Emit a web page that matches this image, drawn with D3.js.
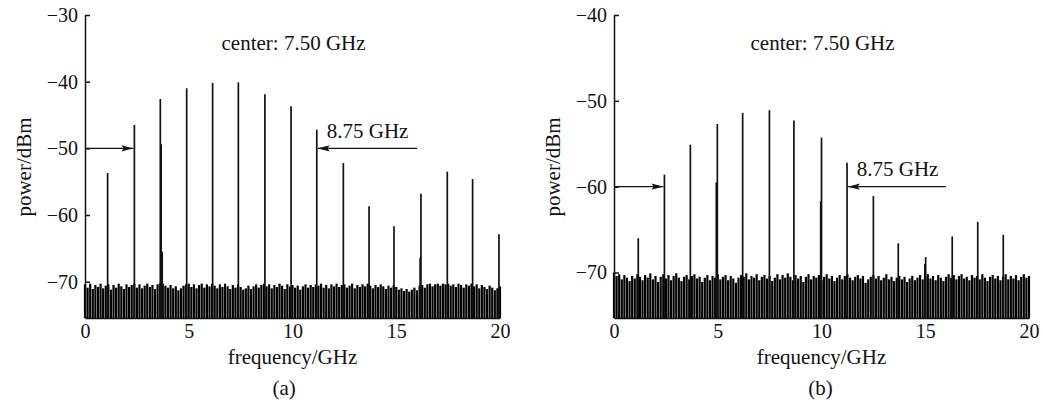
<!DOCTYPE html>
<html>
<head>
<meta charset="utf-8">
<script src="https://cdn.jsdelivr.net/npm/d3@7"></script>
<style>
  body { margin: 0; background: #fff; }
  svg text { font-family: "Liberation Serif", "DejaVu Serif", serif; fill: #111; }
</style>
</head>
<body>
<div id="chart"></div>
<script>
var svgWidth = 1043;
var svgHeight = 403;

// comb line frequencies (GHz) and peak powers (dBm)
var freqsA = [1.09, 2.38, 3.63, 4.90, 6.15, 7.39, 8.67, 9.93, 11.17, 12.45, 13.69, 14.89, 16.19, 17.46, 18.68, 19.95];
var peaksA = [-53.7, -46.5, -42.6, -41.0, -40.2, -40.1, -41.9, -43.7, -47.2, -52.2, -58.7, -61.7, -56.8, -53.5, -54.6, -62.9];
var spurFreqsA = [3.67, 3.72, 16.15];
var spurPeaksA = [-49.4, -65.5, -66.4];

var freqsB = [1.17, 2.43, 3.68, 4.98, 6.20, 7.49, 8.67, 10.00, 11.23, 12.50, 13.70, 15.02, 16.30, 17.53, 18.76];
var peaksB = [-66.0, -58.6, -55.1, -52.7, -51.4, -51.1, -52.3, -54.3, -57.2, -61.1, -66.6, -68.2, -65.8, -64.1, -65.6];
var spurFreqsB = [4.93, 9.96, 14.98];
var spurPeaksB = [-59.5, -61.7, -69.0];

// noise floor tops, one per 0.125 GHz from 0 to 20 GHz
var noiseA = [
  -70.4, -70.9, -70.3, -71.1, -70.5, -70.8, -70.3, -71.0, -70.6, -70.4,
  -71.2, -70.5, -70.9, -70.3, -70.7, -71.1, -70.4, -70.8, -70.5, -70.3,
  -70.9, -70.4, -71.0, -70.6, -70.3, -70.8, -70.5, -71.1, -70.4, -70.2,
  -70.3, -70.6, -70.9, -70.5, -71.0, -70.7, -71.3, -71.0, -70.6, -70.4,
  -70.3, -70.8, -70.4, -71.0, -70.5, -70.3, -70.9, -70.4, -70.7, -70.3,
  -70.6, -71.0, -70.4, -70.8, -70.3, -70.7, -71.1, -70.5, -70.9, -70.4,
  -70.8, -71.2, -71.0, -70.6, -71.1, -70.7, -70.4, -70.9, -70.5, -70.3,
  -70.7, -70.4, -71.0, -70.5, -70.8, -70.3, -70.6, -71.1, -70.4, -70.7,
  -70.5, -70.9, -70.6, -71.2, -70.7, -70.4, -70.9, -70.5, -70.8, -70.4,
  -70.6, -70.3, -70.9, -70.5, -71.0, -70.4, -70.7, -70.3, -70.8, -70.5,
  -70.4, -70.9, -70.6, -70.3, -71.0, -70.5, -70.8, -70.4, -70.7, -70.3,
  -70.6, -71.0, -70.5, -70.8, -70.4, -70.7, -71.1, -70.6, -70.9, -70.5,
  -70.8, -71.2, -71.0, -71.4, -71.1, -71.5, -71.2, -70.9, -71.3, -70.6,
  -70.5, -70.9, -70.4, -70.3, -70.7, -70.4, -70.3, -70.6, -70.3, -70.4,
  -70.3, -70.6, -70.4, -70.8, -70.3, -70.5, -70.9, -70.4, -70.6, -70.3,
  -70.7, -70.4, -71.0, -70.5, -70.8, -71.1, -70.6, -70.9, -71.3, -71.0,
  -70.7
];
var noiseB = [
  -70.0, -70.4, -70.2, -70.8, -70.3, -70.6, -71.0, -70.4, -70.7, -70.2,
  -70.5, -70.9, -70.3, -70.6, -70.1, -70.8, -70.4, -71.1, -70.5, -70.2,
  -70.7, -70.3, -70.9, -70.4, -70.1, -70.6, -71.0, -70.5, -70.3, -70.8,
  -70.4, -70.2, -70.7, -70.5, -71.1, -70.6, -70.3, -70.9, -70.4, -70.6,
  -70.2, -70.8, -70.5, -70.3, -70.9, -70.4, -70.7, -71.2, -70.6, -70.3,
  -70.5, -70.1, -70.8, -70.4, -70.6, -70.2, -70.9, -70.5, -70.3, -70.7,
  -70.4, -71.0, -70.6, -70.2, -70.8, -70.3, -70.6, -70.1, -70.5, -70.9,
  -70.3, -70.7, -70.4, -71.1, -70.5, -70.2, -70.8, -70.4, -70.6, -70.3,
  -70.9, -70.5, -70.2, -70.7, -70.4, -71.0, -70.6, -70.3, -70.8, -70.4,
  -70.2, -70.6, -70.9, -70.5, -70.3, -70.7, -70.4, -71.2, -70.8, -70.5,
  -70.3, -70.7, -70.4, -70.9, -70.6, -70.2, -70.8, -70.5, -71.0, -70.6,
  -70.4, -70.8, -70.5, -71.1, -70.7, -70.4, -70.9, -70.6, -70.3, -70.8,
  -70.5, -70.2, -70.7, -70.4, -70.9, -70.3, -70.6, -71.0, -70.5, -70.2,
  -70.6, -70.3, -70.8, -70.4, -70.2, -70.7, -70.5, -70.9, -70.3, -70.6,
  -70.4, -70.8, -70.2, -70.6, -71.0, -70.5, -70.3, -70.7, -70.4, -70.9,
  -70.5, -70.2, -70.8, -70.4, -70.7, -70.3, -70.9, -70.5, -70.2, -70.6,
  -70.4
];

var yTicksA = [-30, -40, -50, -60, -70];
var yTicksB = [-40, -50, -60, -70];
var xTicks = [0, 5, 10, 15, 20];

var svg = d3.select("#chart")
  .append("svg")
  .attr("width", svgWidth)
  .attr("height", svgHeight);

// arrowhead marker
svg.append("defs").append("marker")
  .attr("id", "head")
  .attr("viewBox", "0 0 12 8")
  .attr("refX", 12)
  .attr("refY", 4)
  .attr("markerWidth", 12)
  .attr("markerHeight", 8)
  .attr("markerUnits", "userSpaceOnUse")
  .attr("orient", "auto")
  .append("path")
  .attr("d", "M0,0.8 L12,4 L0,7.2 L2.5,4 Z")
  .attr("fill", "#111");

function drawPanel(p) {
  var x = d3.scaleLinear().domain([0, 20]).range([p.left, p.left + 415]);
  var y = d3.scaleLinear().domain(p.yDomain).range([318, 15]);
  var g = svg.append("g");

  // noise floor
  g.append("g").selectAll("line")
    .data(p.noise)
    .enter()
    .append("line")
    .attr("x1", (d, i) => x(i * 0.125))
    .attr("x2", (d, i) => x(i * 0.125))
    .attr("y1", y.range()[0])
    .attr("y2", d => y(d))
    .attr("stroke", "#000")
    .attr("stroke-width", 2.2);

  // comb lines
  g.append("g").selectAll("line")
    .data(p.freqs)
    .enter()
    .append("line")
    .attr("x1", d => x(d))
    .attr("x2", d => x(d))
    .attr("y1", y.range()[0])
    .attr("y2", (d, i) => y(p.peaks[i]))
    .attr("stroke", "#111")
    .attr("stroke-width", 1.7);

  g.append("g").selectAll("line")
    .data(p.spurFreqs)
    .enter()
    .append("line")
    .attr("x1", d => x(d))
    .attr("x2", d => x(d))
    .attr("y1", y.range()[0])
    .attr("y2", (d, i) => y(p.spurPeaks[i]))
    .attr("stroke", "#111")
    .attr("stroke-width", 1.7);

  // axes
  var leftAxis = d3.axisLeft(y)
    .tickValues(p.yTicks)
    .tickSizeInner(-5)
    .tickSizeOuter(0)
    .tickPadding(7);
  var yAxis = g.append("g")
    .attr("transform", `translate(${p.left}, 0)`)
    .call(leftAxis);

  var bottomAxis = d3.axisBottom(x)
    .tickValues(xTicks)
    .tickSize(0)
    .tickPadding(6);
  var xAxis = g.append("g")
    .attr("transform", `translate(0, ${y.range()[0]})`)
    .call(bottomAxis);

  [yAxis, xAxis].forEach(function(a) {
    a.selectAll("path, line").attr("stroke", "#111").attr("stroke-width", 1.5);
    a.selectAll("text").attr("font-size", 20).attr("font-family", null).attr("fill", "#111");
  });

  // arrows
  g.append("line")
    .attr("x1", x(0)).attr("x2", x(p.arrowLeftTo))
    .attr("y1", y(p.arrowY)).attr("y2", y(p.arrowY))
    .attr("stroke", "#111").attr("stroke-width", 1.2)
    .attr("marker-end", "url(#head)");
  g.append("line")
    .attr("x1", x(16.0)).attr("x2", x(p.arrowRightTo))
    .attr("y1", y(p.arrowY)).attr("y2", y(p.arrowY))
    .attr("stroke", "#111").attr("stroke-width", 1.2)
    .attr("marker-end", "url(#head)");

  // texts
  g.append("text")
    .attr("x", x(p.labelX)).attr("y", y(p.labelY))
    .attr("font-size", 21)
    .text("8.75 GHz");

  g.append("text")
    .attr("x", x(10.05)).attr("y", 50)
    .attr("text-anchor", "middle")
    .attr("font-size", 21)
    .text("center: 7.50 GHz");

  g.append("text")
    .attr("x", x(10)).attr("y", 364)
    .attr("text-anchor", "middle")
    .attr("font-size", 21)
    .text("frequency/GHz");

  g.append("text")
    .attr("x", x(p.captionX)).attr("y", 395)
    .attr("text-anchor", "middle")
    .attr("font-size", 21)
    .text(p.caption);

  g.append("text")
    .attr("transform", `translate(${p.left - 54}, 167) rotate(-90)`)
    .attr("text-anchor", "middle")
    .attr("font-size", 21)
    .text("power/dBm");
}

drawPanel({
  left: 85, yDomain: [-75.45, -30], yTicks: yTicksA,
  freqs: freqsA, peaks: peaksA, spurFreqs: spurFreqsA, spurPeaks: spurPeaksA,
  noise: noiseA, arrowY: -50, arrowLeftTo: 2.33, arrowRightTo: 11.22,
  labelX: 11.65, labelY: -48.5, captionX: 9.6, caption: "(a)"
});

drawPanel({
  left: 614, yDomain: [-75.3, -40], yTicks: yTicksB,
  freqs: freqsB, peaks: peaksB, spurFreqs: spurFreqsB, spurPeaks: spurPeaksB,
  noise: noiseB, arrowY: -60, arrowLeftTo: 2.38, arrowRightTo: 11.28,
  labelX: 11.7, labelY: -58.8, captionX: 9.95, caption: "(b)"
});
</script>
</body>
</html>
